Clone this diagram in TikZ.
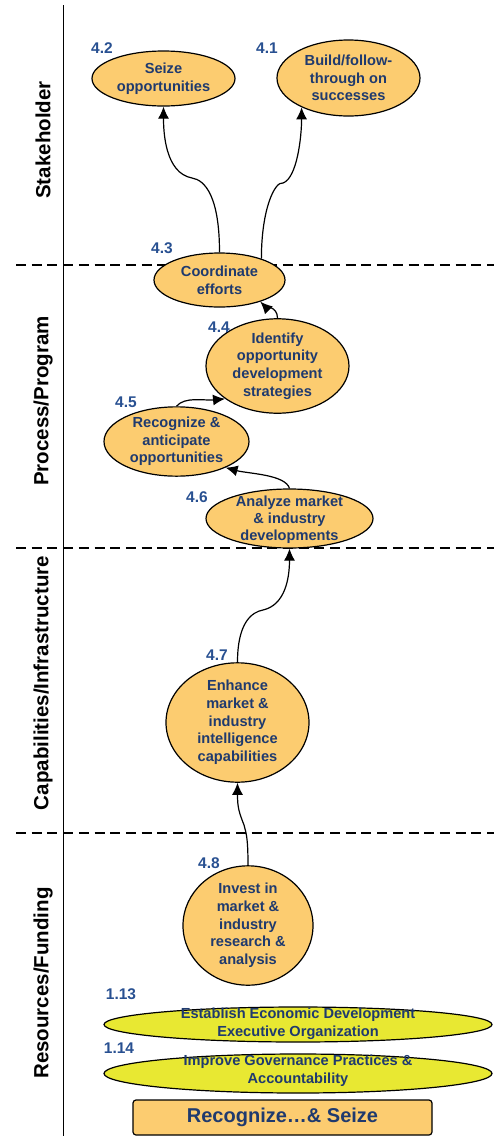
\documentclass[tikz,border=0pt]{standalone}
\usepackage{fontspec}
\setmainfont{Liberation Sans}
\usetikzlibrary{shapes.geometric,arrows.meta}

\definecolor{goalfill}{RGB}{252,204,112}
\definecolor{yelfill}{RGB}{232,232,50}
\definecolor{inknavy}{RGB}{31,58,110}
\definecolor{numblue}{RGB}{40,80,145}

\tikzset{
  goal/.style={ellipse, draw=black, line width=1.2pt, fill=goalfill, inner sep=0pt,
    align=center, text=inknavy, font=\bfseries\fontsize{14.6}{17.7}\selectfont},
  wide/.style={goal, fill=yelfill},
  num/.style={text=numblue, font=\bfseries\fontsize{15.5}{18}\selectfont, inner sep=0pt},
  lane/.style={rotate=90, font=\bfseries\fontsize{20.5}{24}\selectfont, inner sep=0pt},
  flow/.style={-{Latex[length=12pt,width=11pt]}, line width=1.2pt},
  lanedash/.style={line width=1.3pt, dash pattern=on 10pt off 5.7pt},
}

\begin{document}
\begin{tikzpicture}[x=1pt,y=-1pt]
\useasboundingbox (0,0) rectangle (494,1136);

% lane axis and lane separators
\draw[line width=1.6pt] (63.5,5) -- (63.5,1136);
\draw[lanedash] (16,265) -- (494,265);
\draw[lanedash] (16,548) -- (494,548);
\draw[lanedash] (16,833) -- (494,833);

% lane titles
\node[lane] (lstake) at (43,140) {Stakeholder};
\node[lane] (lproc) at (43,401) {Process/Program};
\node[lane] (lcap) at (43,683) {Capabilities/Infrastructure};
\node[lane] (lres) at (43,983) {Resources/Funding};

% activities
\node[goal, minimum width=143pt, minimum height=55pt] (n42) at (163.5,78.5) {Seize\\opportunities};
\node[goal, minimum width=143pt, minimum height=76pt] (n41) at (348.5,78) {Build/follow-\\through on\\successes};
\node[goal, minimum width=131pt, minimum height=54pt] (n43) at (219.5,280) {Coordinate\\efforts};
\node[goal, minimum width=143pt, minimum height=84pt] (n44) at (277.5,366) {Identify\\opportunity\\development\\strategies};
\node[goal, minimum width=145pt, minimum height=61pt] (n45) at (176.5,441.5) {Recognize \&\\anticipate\\opportunities};
\node[goal, minimum width=167pt, minimum height=59pt] (n46) at (289.5,518.5) {};
\node[text=inknavy, font=\bfseries\fontsize{14.6}{17.2}\selectfont, align=center] (t46) at (289.5,520) {Analyze market\\\& industry\\developments};
\node[goal, minimum width=143pt, minimum height=103pt] (n47) at (237.5,722.5) {Enhance\\market \&\\industry\\intelligence\\capabilities};
\node[goal, minimum width=130pt, minimum height=113pt] (n48) at (248,925.5) {Invest in\\market \&\\industry\\research \&\\analysis};
\node[wide, minimum width=388pt, minimum height=35pt] (n113) at (298,1024.5) {};
\node[text=inknavy, font=\bfseries\fontsize{14.6}{18}\selectfont, align=center] (t113) at (298,1024) {Establish Economic Development\\Executive Organization};
\node[wide, minimum width=388pt, minimum height=39pt] (n114) at (298,1073.5) {};
\node[text=inknavy, font=\bfseries\fontsize{14.6}{18}\selectfont, align=center] (t114) at (298,1071) {Improve Governance Practices \&\\Accountability};

% activity numbers
\node[num] (l42) at (102,48) {4.2};
\node[num] (l41) at (267,48) {4.1};
\node[num] (l43) at (162,248) {4.3};
\node[num] (l44) at (219,327) {4.4};
\node[num] (l45) at (126,402) {4.5};
\node[num] (l46) at (197,497) {4.6};
\node[num] (l47) at (217,655) {4.7};
\node[num] (l48) at (209,863) {4.8};
\node[num] (l113) at (121,994) {1.13};
\node[num] (l114) at (119,1048) {1.14};

% title bar
\node[draw=black, line width=1.2pt, fill=goalfill, rounded corners=3pt,
  minimum width=299pt, minimum height=35pt, text=inknavy,
  font=\bfseries\fontsize{20}{24}\selectfont] (title) at (282.5,1117.5) {Recognize…\& Seize};

% bends of the flow lines
\coordinate (k42) at (192,178);
\coordinate (k41) at (283,183);
\coordinate (k46) at (263,610);
\coordinate (k47) at (244,825);

% flow between activities
\draw[flow] (n43.north) .. controls +(0,-56) and +(13,2) .. (k42)
  .. controls +(-27,-5) and +(0,25) .. (n42.south);
\draw[flow] (n43.27) .. controls +(0,-50) and +(-8,-2) .. (k41)
  .. controls +(14,-5) and +(0,30) .. (n41.212);
\draw[flow] (n44.north) .. controls +(0,-12) and +(4,4) .. (n43.-28);
\draw[flow] (n45.north) .. controls +(8,-10) and +(-20,2) .. (n44.212);
\draw[flow] (n46.north) .. controls +(-4,-14) and +(22,6) .. (n45.-28);
\draw[flow] (n47.north) .. controls +(0,-40) and +(-11,2) .. (k46)
  .. controls +(22,-5) and +(0,30) .. (n46.south);
\draw[flow] (n48.north) .. controls +(0,-29) and +(2,8) .. (k47)
  .. controls +(-5,-13) and +(0,25) .. (n47.south);
\end{tikzpicture}
\end{document}
